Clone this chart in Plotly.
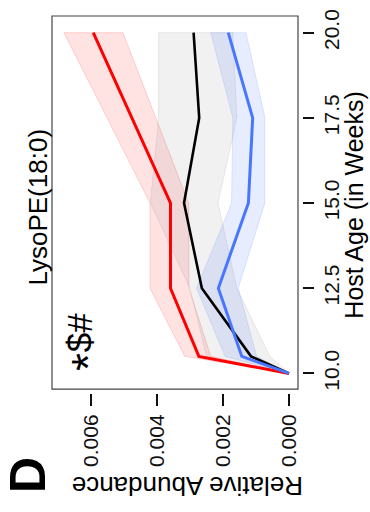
import plotly.graph_objects as go

# Host age (weeks) at each sampling point
ages = [10, 10.5, 12.5, 15, 17.5, 20]

# Relative abundance of LysoPE(18:0): mean with lower / upper band per group
red_mean = [0.0, 0.00273, 0.00359, 0.00359, 0.00476, 0.00593]
red_lo = [0.0, 0.00237, 0.00303, 0.00304, 0.00403, 0.00503]
red_hi = [0.0, 0.00316, 0.00421, 0.00421, 0.00551, 0.00682]

black_mean = [0.0, 0.00115, 0.00264, 0.00318, 0.00272, 0.00289]
black_lo = [0.0, 0.00058, 0.00158, 0.00215, 0.00158, 0.00170]
black_hi = [0.0, 0.00250, 0.00300, 0.00420, 0.00395, 0.00395]

blue_mean = [0.0, 0.00143, 0.00214, 0.00123, 0.00110, 0.00184]
blue_lo = [0.0, 0.00098, 0.00154, 0.00073, 0.00073, 0.00130]
blue_hi = [0.0, 0.00194, 0.00280, 0.00174, 0.00170, 0.00237]

abund_ticks = [0.0, 0.002, 0.004, 0.006]
abund_labels = ["0.000", "0.002", "0.004", "0.006"]
age_ticks = [10, 12.5, 15, 17.5, 20]
age_labels = ["10.0", "12.5", "15.0", "17.5", "20.0"]

FONT = "Liberation Sans, Arial, sans-serif"

groups = [
    (red_mean, red_lo, red_hi, "#FF0000", "rgba(255,0,0,0.11)", "rgba(255,0,0,0.16)", 3),
    (black_mean, black_lo, black_hi, "#000000", "rgba(120,120,120,0.10)", "rgba(120,120,120,0.14)", 2.6),
    (blue_mean, blue_lo, blue_hi, "#4876FF", "rgba(72,118,255,0.13)", "rgba(72,118,255,0.16)", 3),
]

fig = go.Figure()

# Shaded bands first (abundance runs along x, age along y)
for mean, lo, hi, col, fill, edge, w in groups:
    fig.add_trace(go.Scatter(
        x=hi + lo[::-1], y=ages + ages[::-1],
        fill="toself", fillcolor=fill, mode="lines",
        line=dict(color=edge, width=1), hoverinfo="skip", showlegend=False,
    ))

# Mean lines on top
for mean, lo, hi, col, fill, edge, w in groups:
    fig.add_trace(go.Scatter(
        x=mean, y=ages, mode="lines",
        line=dict(color=col, width=w), showlegend=False,
    ))

dom_x = [0, 0.984]
dom_y = [0.0104, 1]

fig.update_layout(
    width=370, height=512, autosize=False,
    margin=dict(l=52, r=68, t=9, b=119, pad=0),
    plot_bgcolor="white", paper_bgcolor="white",
    font=dict(family=FONT, color="#000000"),
    showlegend=False,
    xaxis=dict(
        domain=dom_x, range=[0.00718, -0.000273], anchor="free", position=0,
        tickvals=abund_ticks, ticktext=abund_labels, tickangle=-90,
        ticks="outside", ticklen=12, tickwidth=1.6, tickcolor="#111",
        tickfont=dict(size=21, family=FONT, color="#111"),
        showgrid=False, zeroline=False, showline=False,
    ),
    yaxis=dict(
        domain=dom_y, range=[9.54, 20.49], anchor="free", position=1, side="right",
        tickvals=age_ticks, ticktext=age_labels, tickangle=-90,
        ticks="outside", ticklen=11, tickwidth=1.6, tickcolor="#111",
        tickfont=dict(size=21, family=FONT, color="#111"),
        showgrid=False, zeroline=False, showline=False,
    ),
)

# Plot frame
fig.add_shape(type="rect", xref="x domain", yref="y domain", x0=0, x1=1, y0=0, y1=1,
              line=dict(color="#444", width=1.2), fillcolor="rgba(0,0,0,0)", layer="above")

annots = [
    dict(text="LysoPE(18:0)", x=-0.056, y=0.492, textangle=-90, size=26),
    dict(text="*", x=0.146, y=0.081, textangle=-90, size=46),
    dict(text="$#", x=0.110, y=0.160, textangle=-90, size=35),
    dict(text="<b>D</b>", x=-0.098, y=-0.219, textangle=-90, size=50),
    dict(text="Relative Abundance", x=0.544, y=-0.245, textangle=180, size=26),
    dict(text="Host Age (in Weeks)", x=1.208, y=0.497, textangle=-90, size=25),
]
for a in annots:
    fig.add_annotation(xref="paper", yref="paper", showarrow=False,
                       xanchor="center", yanchor="middle",
                       font=dict(family=FONT, color="#000", size=a["size"]),
                       text=a["text"], x=a["x"], y=a["y"], textangle=a["textangle"])

fig.write_html("out.html")
